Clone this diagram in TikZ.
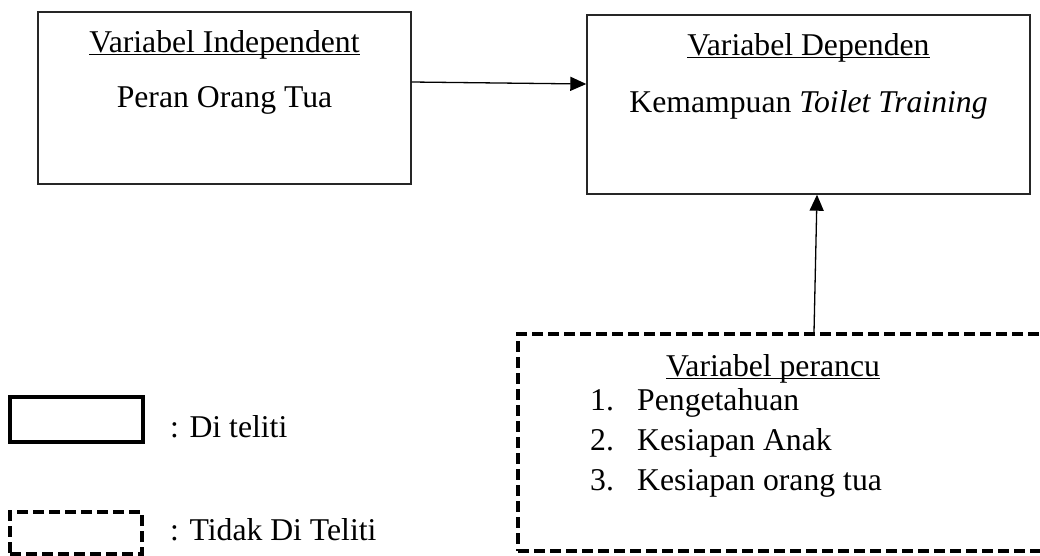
\documentclass[tikz,border=0pt]{standalone}
\usepackage{fontspec}
\setmainfont{Liberation Serif}
\usetikzlibrary{arrows.meta}
\newcommand\ulx[1]{\setbox0\hbox{#1}\rlap{\rule[-3.4pt]{\wd0}{1.5pt}}\box0}
\tikzset{
  solidbox/.style={draw=black!85, line width=1.4pt, inner sep=0pt},
  dashbox/.style={draw=black, line width=3.6pt, dash pattern=on 11pt off 5pt, inner sep=0pt},
  legsolid/.style={draw=black, line width=3.8pt, inner sep=0pt},
  txt/.style={inner sep=0pt, anchor=base, font=\fontsize{31.7}{38}\selectfont},
  ltxt/.style={txt, anchor=base west},
  arr/.style={draw=black, line width=1.3pt, -{Triangle[length=16pt,width=14pt]}}
}
\begin{document}
\begin{tikzpicture}[x=1pt,y=-1pt]
\useasboundingbox (0,0) rectangle (1040,555);
\clip (0,0) rectangle (1040,555);
\fill[white] (0,0) rectangle (1040,555);
% boxes
\node[solidbox, minimum width=373pt, minimum height=172pt] (lbox) at (224.5,98) {};
\node[solidbox, minimum width=443pt, minimum height=179pt] (rbox) at (808.5,104.5) {};
\node[dashbox, minimum width=560pt, minimum height=217pt] (dbox) at (798,442.5) {};
\node[legsolid, minimum width=133pt, minimum height=45pt] (lgs) at (76.5,419.5) {};
\node[dashbox, minimum width=132pt, minimum height=42pt] (lgd) at (76,533) {};
% texts
\node[txt] (t1) at (224.5,52) {\ulx{Variabel Independent}};
\node[txt] (t2) at (224.5,107) {Peran Orang Tua};
\node[txt] (t3) at (808.5,55) {\ulx{Variabel Dependen}};
\node[txt] (t4) at (808.5,112) {Kemampuan \textit{Toilet Training}};
\node[txt] (t5) at (773,376) {\ulx{Variabel perancu}};
\node[ltxt] (n1) at (590,410) {1.};
\node[ltxt] (i1) at (637,410) {Pengetahuan};
\node[ltxt] (n2) at (590,450) {2.};
\node[ltxt] (i2) at (637,450) {Kesiapan Anak};
\node[ltxt] (n3) at (590,490) {3.};
\node[ltxt] (i3) at (637,490) {Kesiapan orang tua};
\node[ltxt] (l1) at (170,437) {: Di teliti};
\node[ltxt] (l2) at (170,540) {: Tidak Di Teliti};
% connectors
\coordinate (va) at (814,0);
\coordinate (vb) at (817,0);
\draw[arr] ([yshift=16pt]lbox.east) -- ([yshift=20.5pt]rbox.west);
\draw[arr] (dbox.north -| va) -- (rbox.south -| vb);
\end{tikzpicture}
\end{document}
